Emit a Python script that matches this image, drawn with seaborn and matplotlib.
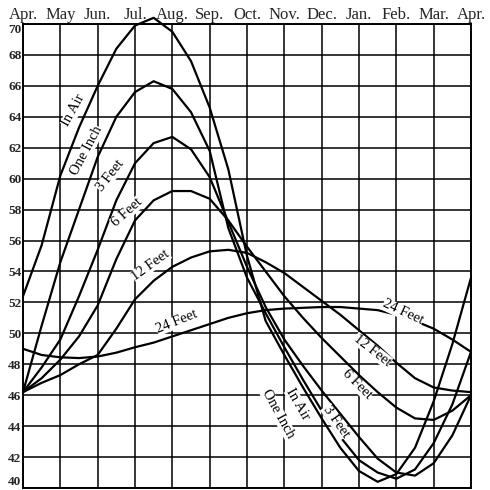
import matplotlib
matplotlib.use("Agg")
import matplotlib.pyplot as plt
import numpy as np
import pandas as pd
import seaborn as sns

# Data: soil/air temperature by depth, read at half-month steps from April to April
MONTH_LABELS = ["Apr.", "May", "Jun.", "Jul.", "Aug.", "Sep.", "Oct.",
                "Nov.", "Dec.", "Jan.", "Feb.", "Mar.", "Apr."]
STEPS = np.arange(0, 12.5, 0.5)

IN_AIR = [52.4, 55.7, 60.2, 63.3, 66.0, 68.4, 69.9, 70.4, 69.5, 67.6, 64.6, 60.6, 55.0,
          50.8, 48.6, 46.5, 44.5, 42.6, 41.1, 40.4, 40.9, 42.6, 45.6, 49.3, 53.6]
ONE_INCH = [46.2, 50.5, 54.6, 58.0, 61.4, 64.0, 65.6, 66.3, 65.8, 64.3, 61.8, 56.8, 53.6,
            51.3, 49.1, 47.0, 45.0, 43.3, 41.8, 41.0, 40.6, 41.2, 42.9, 45.4, 48.8]
THREE_FEET = [46.2, 47.8, 49.6, 52.4, 55.4, 58.6, 61.0, 62.3, 62.7, 61.9, 60.1, 57.2, 54.3,
              51.7, 49.6, 47.9, 46.3, 44.8, 43.3, 41.9, 41.0, 40.8, 41.6, 43.4, 46.0]
SIX_FEET = [46.2, 47.1, 48.3, 49.8, 51.8, 54.8, 57.3, 58.6, 59.2, 59.2, 58.7, 57.3, 55.6,
            54.0, 52.4, 51.0, 49.7, 48.5, 47.3, 46.2, 45.2, 44.5, 44.4, 45.0, 46.0]
TWELVE_FEET = [46.2, 46.8, 47.3, 48.0, 48.6, 50.3, 52.2, 53.4, 54.3, 54.9, 55.3, 55.4, 55.2,
               54.6, 53.9, 53.0, 52.1, 51.2, 50.2, 49.2, 48.1, 47.1, 46.5, 46.3, 46.2]
TWENTY_FOUR_FEET = [49.0, 48.6, 48.45, 48.4, 48.5, 48.75, 49.1, 49.4, 49.8, 50.2, 50.6, 51.0, 51.3,
                    51.5, 51.6, 51.65, 51.7, 51.7, 51.6, 51.5, 51.2, 50.8, 50.3, 49.6, 48.8]

SERIES = {
    "In Air": IN_AIR,
    "One Inch": ONE_INCH,
    "3 Feet": THREE_FEET,
    "6 Feet": SIX_FEET,
    "12 Feet": TWELVE_FEET,
    "24 Feet": TWENTY_FOUR_FEET,
}

# label placement (month, temp, angle) for each curve, left and right
LEFT_LABELS = {
    "In Air": (1.36, 64.4, 61),
    "One Inch": (1.70, 61.8, 62),
    "3 Feet": (2.34, 60.2, 52),
    "6 Feet": (2.78, 57.8, 42),
    "12 Feet": (3.42, 54.4, 36),
    "24 Feet": (4.12, 50.75, 22),
}
RIGHT_LABELS = {
    "24 Feet": (10.18, 51.35, -25),
    "12 Feet": (9.35, 48.9, -38),
    "6 Feet": (8.95, 46.7, -45),
    "3 Feet": (8.38, 44.3, -55),
    "In Air": (7.37, 45.4, -60),
    "One Inch": (6.83, 44.8, -61),
}

LINE_COLOR = "black"
FONT = "Liberation Serif"

sns.set_style("white")
plt.rcParams["font.family"] = [FONT, "DejaVu Serif"]

df = pd.DataFrame(
    [(m, name, t) for name, vals in SERIES.items() for m, t in zip(STEPS, vals)],
    columns=["month", "depth", "temp"],
)

fig = plt.figure(figsize=(4.9, 4.9), dpi=100)
ax = fig.add_axes([23 / 490, 2 / 490, 448 / 490, 464 / 490])

for name in SERIES:
    sub = df[df["depth"] == name]
    sns.lineplot(data=sub, x="month", y="temp", ax=ax, color=LINE_COLOR,
                 linewidth=1.6, sort=False, estimator=None, clip_on=False,
                 solid_joinstyle="round")

ax.set_xlim(0, 12)
ax.set_ylim(40, 70)
ax.set_xticks(range(13))
ax.set_xticklabels(MONTH_LABELS, fontsize=12)
ax.xaxis.tick_top()
ax.set_yticks(range(40, 71, 2))
ax.set_yticklabels([str(v) for v in range(40, 71, 2)], fontsize=9.5, fontweight="bold")
ytl = ax.get_yticklabels()
ytl[0].set_va("bottom")
ytl[-1].set_va("top")
ax.tick_params(length=0, pad=1)
ax.tick_params(axis="x", pad=1)
ax.set_xlabel("")
ax.set_ylabel("")
ax.grid(True, color=LINE_COLOR, linewidth=1.1)
for sp in ax.spines.values():
    sp.set_color(LINE_COLOR)
    sp.set_linewidth(1.4)

for labels in (LEFT_LABELS, RIGHT_LABELS):
    for name, (m, t, ang) in labels.items():
        ax.text(m, t, name, rotation=ang, rotation_mode="anchor",
                ha="center", va="center", fontsize=10.5,
                color=LINE_COLOR, bbox=dict(facecolor="white", edgecolor="none", pad=0.1))

fig.savefig("out.png", dpi=100, facecolor="white")
